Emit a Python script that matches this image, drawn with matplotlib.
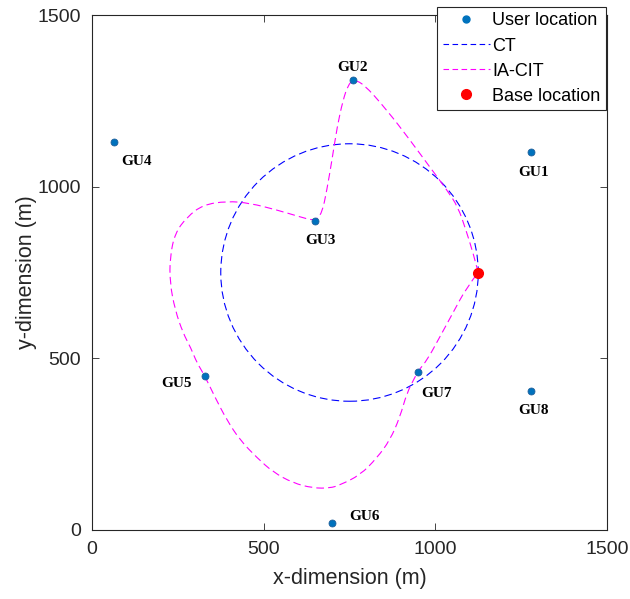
import matplotlib
matplotlib.use("Agg")
import matplotlib.pyplot as plt
from matplotlib.lines import Line2D
from matplotlib.patches import Circle, PathPatch
from matplotlib.path import Path

# ---------------- data ----------------
user_names = ["GU1", "GU2", "GU3", "GU4", "GU5", "GU6", "GU7", "GU8"]
user_x = [1280, 760, 650, 65, 330, 700, 950, 1280]
user_y = [1100, 1310, 900, 1130, 450, 20, 460, 405]

base_x = [1125]
base_y = [750]

# CT trajectory: circle (center / radius)
ct_center = (750, 750)
ct_radius = 375

# IA-CIT trajectory
iacit_x = [1125, 1110, 1089, 1066, 1034, 984, 926, 859, 789, 760,
           746, 731, 714, 699, 684, 670, 650, 606, 539, 460,
           393, 323, 277, 242, 227, 227, 242, 265, 288, 306,
           326, 358, 393, 431, 481, 527, 585, 644, 693, 722,
           781, 830, 868, 897, 917, 941, 952, 976, 1008, 1051,
           1092, 1125]
iacit_y = [750, 807, 874, 941, 990, 1057, 1136, 1223, 1302, 1310,
           1296, 1252, 1174, 1078, 990, 923, 900, 912, 932, 952,
           958, 947, 912, 865, 795, 719, 641, 574, 530, 486,
           454, 387, 320, 262, 210, 169, 137, 122, 122, 131,
           160, 210, 262, 329, 399, 446, 466, 495, 553, 632,
           708, 750]

x_ticks = [0, 500, 1000, 1500]
y_ticks = [0, 500, 1000, 1500]

# label offsets in pixels (layout only)
label_offsets = [(2, -20), (0, 13), (5, -20), (22, -19), (-29, -8), (32, 7), (18, -21), (2, -20)]

# ---------------- style ----------------
plt.rcParams["font.family"] = ["Liberation Sans", "DejaVu Sans"]
plt.rcParams["lines.scale_dashes"] = False
AX_COL = "#262626"
dash = (0, (5.5, 3.0))

fig = plt.figure(figsize=(6.3, 5.99), dpi=100)
ax = fig.add_axes([92 / 630, 69 / 599, 515 / 630, 515 / 599])

ax.plot(user_x, user_y, "o", color="#0072BD", markersize=5, markeredgewidth=0.6,
        markeredgecolor="#1f5f9a", zorder=4)

circ = Circle(ct_center, ct_radius, fill=False, edgecolor="#0000FF", linewidth=0.8,
              linestyle=dash, zorder=2)
ax.add_patch(circ)

# smooth rendering of the read trajectory points (quadratic Bezier through midpoints)
pts = list(zip(iacit_x, iacit_y))
verts = [pts[0]]
codes = [Path.MOVETO]
for i in range(1, len(pts) - 1):
    mid = ((pts[i][0] + pts[i + 1][0]) / 2, (pts[i][1] + pts[i + 1][1]) / 2)
    if i == len(pts) - 2:
        mid = pts[-1]
    verts += [pts[i], mid]
    codes += [Path.CURVE3, Path.CURVE3]
path = Path(verts, codes)
ax.add_patch(PathPatch(path, fill=False, edgecolor="#FF00FF", linewidth=0.8,
                       linestyle=dash, zorder=3))

ax.plot(base_x, base_y, "o", color="#FF0000", markersize=7, zorder=5)

for name, x, y, off in zip(user_names, user_x, user_y, label_offsets):
    ax.annotate(name, (x, y), xytext=(off[0] * 0.72, off[1] * 0.72),
                textcoords="offset points", ha="center", va="center",
                fontsize=11, fontweight="bold", family=["Liberation Serif", "DejaVu Serif"],
                color="black", zorder=6)

ax.set_xlim(0, 1500)
ax.set_ylim(0, 1500)
ax.set_xticks(x_ticks)
ax.set_yticks(y_ticks)
ax.tick_params(direction="in", length=5, width=0.6, colors=AX_COL, labelsize=14,
               top=True, right=True, pad=8)
for s in ax.spines.values():
    s.set_color(AX_COL)
    s.set_linewidth(0.8)

ax.set_xlabel("x-dimension (m)", fontsize=15.5, color=AX_COL, labelpad=7)
ax.set_ylabel("y-dimension (m)", fontsize=15.5, color=AX_COL, labelpad=0)

handles = [
    Line2D([], [], marker="o", linestyle="none", color="#0072BD", markersize=5),
    Line2D([], [], color="#0000FF", linewidth=0.8, linestyle=(0, (4.0, 2.5))),
    Line2D([], [], color="#FF00FF", linewidth=0.8, linestyle=(0, (4.0, 2.5))),
    Line2D([], [], marker="o", linestyle="none", color="#FF0000", markersize=7),
]
labels = ["User location", "CT", "IA-CIT", "Base location"]
leg = fig.legend(handles, labels, loc="upper right",
                 bbox_to_anchor=(606 / 630, (599 - 7) / 599),
                 fontsize=13, frameon=True, fancybox=False, framealpha=1,
                 edgecolor=AX_COL, handlelength=2.6, handletextpad=0.15,
                 labelspacing=0.45, borderpad=0.3, borderaxespad=0)
leg.get_frame().set_linewidth(0.8)

fig.savefig("out.png", dpi=100)
